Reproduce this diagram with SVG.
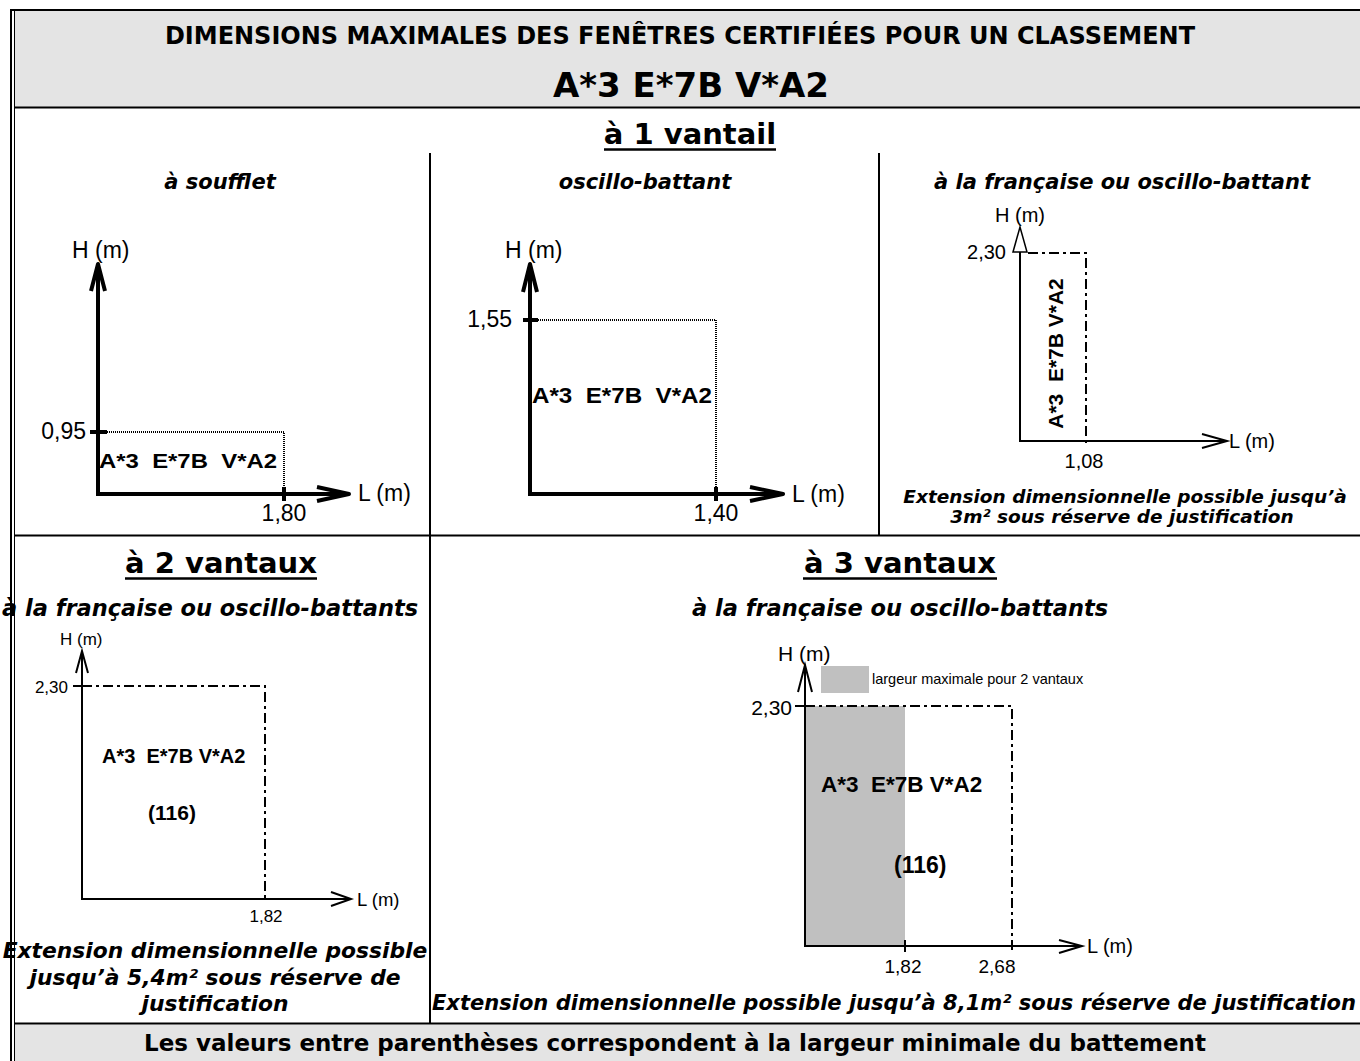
<svg xmlns="http://www.w3.org/2000/svg" width="1360" height="1061" viewBox="0 0 1360 1061">
<style>
.v{font-family:"DejaVu Sans",Verdana,sans-serif;font-weight:bold;fill:#000}
.vi{font-family:"DejaVu Sans",Verdana,sans-serif;font-weight:bold;font-style:italic;fill:#000}
.a{font-family:"Liberation Sans",Arial,sans-serif;fill:#000}
.ab{font-family:"Liberation Sans",Arial,sans-serif;font-weight:bold;fill:#000}
.mid{text-anchor:middle}
.end{text-anchor:end}
.frame{stroke:#000;fill:none}
.ax4{stroke:#000;stroke-width:4;fill:none}
.ax2{stroke:#000;stroke-width:2;fill:none}
.dot{stroke:#000;stroke-width:2;fill:none;stroke-dasharray:1 1}
.dd{stroke:#000;stroke-width:2;fill:none;stroke-dasharray:10 4 3 4}
.band{fill:#e4e4e4}
.grey{fill:#c0c0c0}
</style>

<g id="frame">
<rect class="band" x="15" y="11" width="1345" height="96"/>
<rect class="band" x="15" y="1024.5" width="1345" height="37"/>
<line class="frame" x1="10" y1="10" x2="1360" y2="10" stroke-width="2"/>
<line class="frame" x1="11" y1="9" x2="11" y2="1061" stroke-width="2"/>
<line class="frame" x1="14.5" y1="11" x2="14.5" y2="1061" stroke-width="1"/>
<line class="frame" x1="14" y1="107.5" x2="1360" y2="107.5" stroke-width="2"/>
<line class="frame" x1="430" y1="153" x2="430" y2="1023" stroke-width="2"/>
<line class="frame" x1="879" y1="153" x2="879" y2="535" stroke-width="2"/>
<line class="frame" x1="14" y1="535.5" x2="1360" y2="535.5" stroke-width="2"/>
<line class="frame" x1="14" y1="1023.5" x2="1360" y2="1023.5" stroke-width="2"/>
</g>

<g id="header">
<text class="v mid" x="680" y="44" font-size="24">DIMENSIONS MAXIMALES DES FENÊTRES CERTIFIÉES POUR UN CLASSEMENT</text>
<text class="v mid" x="691" y="97" font-size="34">A*3 E*7B V*A2</text>
<text class="v mid" x="690" y="144" font-size="29">à 1 vantail</text>
<line class="frame" x1="604" y1="149.5" x2="776" y2="149.5" stroke-width="2.5"/>
</g>

<g id="connectors">
<!-- panel 1 -->
<line class="ax4" x1="98" y1="494" x2="98" y2="265"/>
<polyline class="ax4" points="91,291 98,264 105,291" stroke-linejoin="round"/>
<line class="ax4" x1="96" y1="494" x2="348" y2="494"/>
<polyline class="ax4" points="317,487 349,494 317,501" stroke-linejoin="round"/>
<line class="ax4" x1="90" y1="432" x2="107" y2="432"/>
<line class="ax4" x1="284" y1="487" x2="284" y2="501"/>
<path class="dot" d="M107,432 H284 V487"/>
<!-- panel 2 -->
<line class="ax4" x1="530" y1="494" x2="530" y2="265"/>
<polyline class="ax4" points="523,292 530,264 537,292" stroke-linejoin="round"/>
<line class="ax4" x1="528" y1="494" x2="782" y2="494"/>
<polyline class="ax4" points="750,487 783,494 750,501" stroke-linejoin="round"/>
<line class="ax4" x1="523" y1="320" x2="538" y2="320"/>
<line class="ax4" x1="716" y1="487" x2="716" y2="501"/>
<path class="dot" d="M538,320 H716 V487"/>
<!-- panel 3 -->
<line class="ax2" x1="1020" y1="441" x2="1020" y2="252"/>
<polygon points="1013,252 1020,227 1027,252" fill="#fff" stroke="#000" stroke-width="1.5"/>
<line class="ax2" x1="1019" y1="441" x2="1226" y2="441"/>
<polyline class="ax2" points="1202,434 1227,441 1202,448"/>
<path class="dd" d="M1028,253 H1086 V447"/>
<!-- panel 4 -->
<line class="ax2" x1="82" y1="899" x2="82" y2="652"/>
<polyline class="ax2" points="76,673 82,651 88,673"/>
<line class="ax2" x1="81" y1="899" x2="350" y2="899"/>
<polyline class="ax2" points="331,892 351,899 331,906"/>
<line class="ax2" x1="73" y1="686" x2="82" y2="686"/>
<path class="dd" d="M82,686 H265 V899"/>
<!-- panel 5 -->
<rect class="grey" x="805" y="706" width="100" height="240"/>
<line class="ax2" x1="805" y1="946" x2="805" y2="666"/>
<polyline class="ax2" points="798,692 805,665 812,692"/>
<line class="ax2" x1="804" y1="946" x2="1081" y2="946"/>
<polyline class="ax2" points="1059,940 1082,946 1059,953"/>
<line class="ax2" x1="795" y1="706" x2="805" y2="706"/>
<line class="ax2" x1="905" y1="940" x2="905" y2="952"/>
<path class="dd" d="M805,706 H1012 V952"/>
</g>

<g id="panel-soufflet">
<text class="vi mid" x="220" y="189" font-size="21">à soufflet</text>
<text class="a" x="72" y="258" font-size="23">H (m)</text>
<text class="a end" x="86" y="439" font-size="23">0,95</text>
<text class="a mid" x="284" y="521" font-size="23">1,80</text>
<text class="a" x="358" y="501" font-size="23">L (m)</text>
<text class="ab" x="99" y="468" font-size="21" textLength="178" lengthAdjust="spacingAndGlyphs" xml:space="preserve">A*3  E*7B  V*A2</text>
</g>

<g id="panel-oscillo">
<text class="vi mid" x="645" y="189" font-size="21">oscillo-battant</text>
<text class="a" x="505" y="258" font-size="23">H (m)</text>
<text class="a end" x="512" y="327" font-size="23">1,55</text>
<text class="a mid" x="716" y="521" font-size="23">1,40</text>
<text class="a" x="792" y="502" font-size="23">L (m)</text>
<text class="ab" x="532" y="403" font-size="22" textLength="180" lengthAdjust="spacingAndGlyphs" xml:space="preserve">A*3  E*7B  V*A2</text>
</g>

<g id="panel-francaise-1">
<text class="vi mid" x="1122" y="189" font-size="21">à la française ou oscillo-battant</text>
<text class="a" x="995" y="222" font-size="20">H (m)</text>
<text class="a end" x="1006" y="259" font-size="20">2,30</text>
<text class="a mid" x="1084" y="468" font-size="20">1,08</text>
<text class="a" x="1229" y="448" font-size="20">L (m)</text>
<text class="ab mid" transform="translate(1063,353.5) rotate(-90)" font-size="21" xml:space="preserve">A*3  E*7B V*A2</text>
<text class="vi mid" x="1125" y="503" font-size="18.5">Extension dimensionnelle possible jusqu’à</text>
<text class="vi mid" x="1122" y="523" font-size="18.5">3m² sous réserve de justification</text>
</g>

<g id="panel-2-vantaux">
<text class="v mid" x="221" y="573" font-size="29">à 2 vantaux</text>
<line class="frame" x1="125" y1="578.5" x2="317" y2="578.5" stroke-width="2.5"/>
<text class="vi mid" x="210" y="616" font-size="22.5">à la française ou oscillo-battants</text>
<text class="a" x="60" y="645" font-size="17">H (m)</text>
<text class="a end" x="68" y="693" font-size="17">2,30</text>
<text class="a mid" x="266" y="922" font-size="17">1,82</text>
<text class="a" x="357" y="906" font-size="18.5">L (m)</text>
<text class="ab" x="102" y="763" font-size="20" xml:space="preserve">A*3  E*7B V*A2</text>
<text class="ab mid" x="172" y="820" font-size="21">(116)</text>
<text class="vi mid" x="215" y="958" font-size="21.8">Extension dimensionnelle possible</text>
<text class="vi mid" x="215" y="985" font-size="21.8">jusqu’à 5,4m² sous réserve de</text>
<text class="vi mid" x="215" y="1011" font-size="21.8">justification</text>
</g>

<g id="panel-3-vantaux">
<text class="v mid" x="900" y="573" font-size="29">à 3 vantaux</text>
<line class="frame" x1="803" y1="578.5" x2="997" y2="578.5" stroke-width="2.5"/>
<text class="vi mid" x="900" y="616" font-size="22.5">à la française ou oscillo-battants</text>
<rect class="grey" x="821" y="666" width="48" height="27"/>
<text class="a" x="872" y="684" font-size="14.5">largeur maximale pour 2 vantaux</text>
<text class="a" x="778" y="661" font-size="21">H (m)</text>
<text class="a end" x="792" y="715" font-size="21">2,30</text>
<text class="a mid" x="903" y="973" font-size="19">1,82</text>
<text class="a mid" x="997" y="973" font-size="19">2,68</text>
<text class="a" x="1087" y="953" font-size="20">L (m)</text>
<text class="ab" x="821" y="792" font-size="22.5" xml:space="preserve">A*3  E*7B V*A2</text>
<text class="ab" x="894" y="873" font-size="23">(116)</text>
<text class="vi" x="432" y="1010" font-size="21" textLength="924" lengthAdjust="spacingAndGlyphs">Extension dimensionnelle possible jusqu’à 8,1m² sous réserve de justification</text>
</g>

<g id="footer">
<text class="v mid" x="675" y="1051" font-size="23">Les valeurs entre parenthèses correspondent à la largeur minimale du battement</text>
</g>
</svg>
